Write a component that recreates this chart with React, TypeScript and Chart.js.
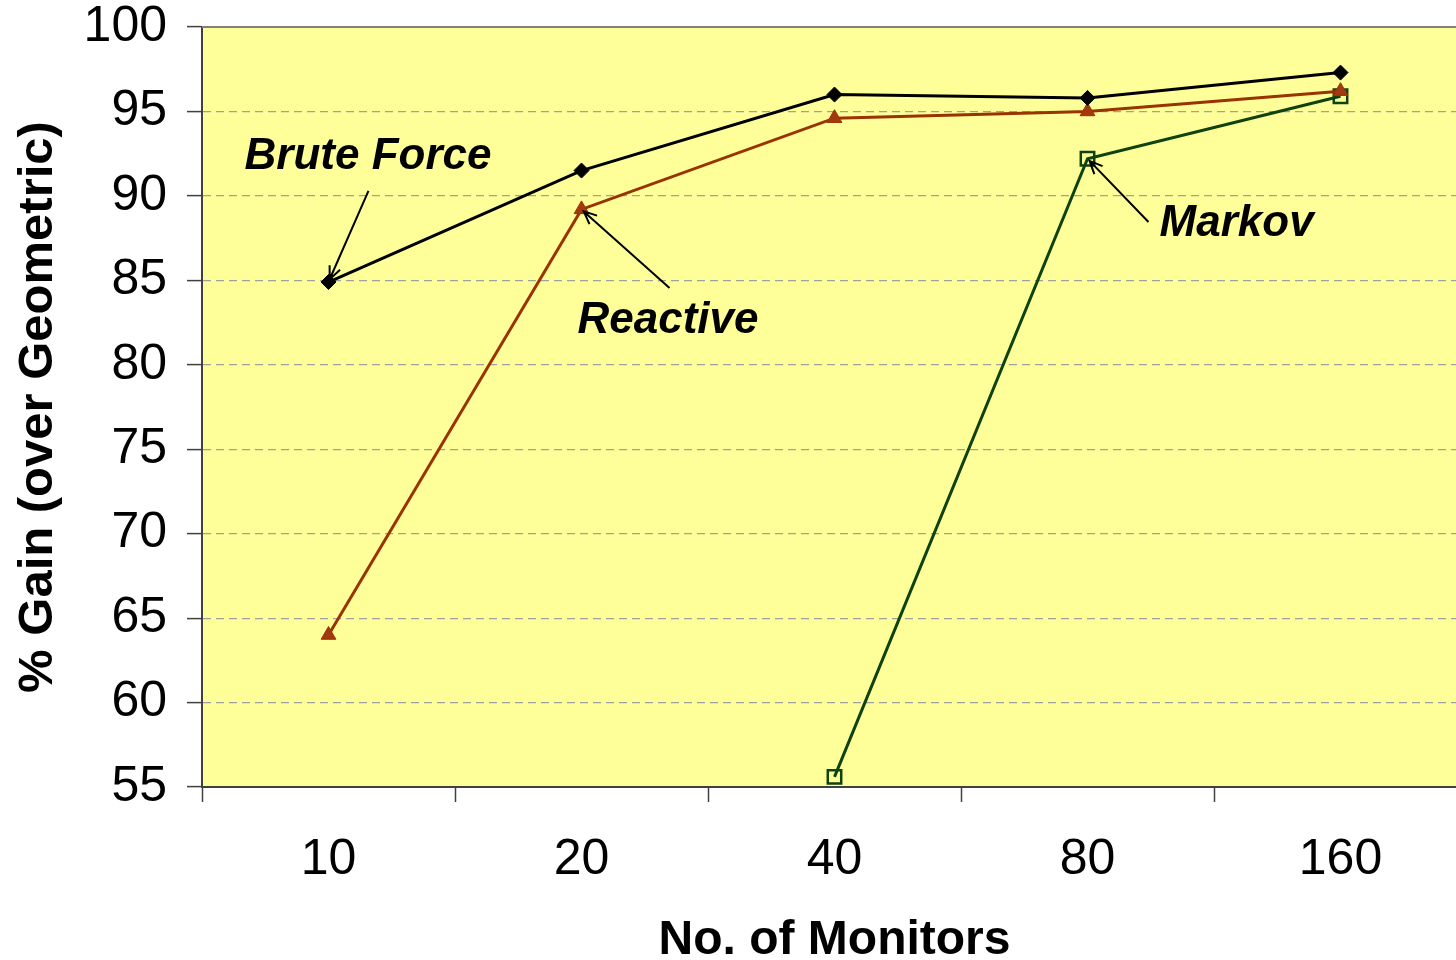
import React, { useEffect, useRef } from 'react';
import { Chart, registerables } from 'chart.js';

Chart.register(...registerables);

// ---- data ----
const categories = ['10', '20', '40', '80', '160'];
const bruteForce = [84.9, 91.5, 96.0, 95.8, 97.3];
const reactive = [64.0, 89.2, 94.6, 95.0, 96.2];
const markov: (number | null)[] = [null, null, 55.6, 92.2, 95.9];
const yMin = 55;
const yMax = 100;
const yStep = 5;
const xTitle = 'No. of Monitors';
const yTitle = '% Gain (over Geometric)';

// annotation labels (data space: category index, value)
const labelTexts = ['Brute Force', 'Reactive', 'Markov'];
const labelAnchors = [
  [-0.332, 91.6],
  [0.984, 81.9],
  [3.285, 87.65],
];
const arrowTails = [
  [0.158, 90.3],
  [1.348, 84.55],
  [3.241, 88.45],
];
const arrowTargets = [
  [0, 0], // series 0 (Brute Force), index 0
  [1, 1], // series 1 (Reactive), index 1
  [2, 3], // series 2 (Markov), index 3
];

const FONT = '"Liberation Sans", Arial, Helvetica, sans-serif';
const BG = '#FFFF99';

const plotFramePlugin = {
  id: 'plotFrame',
  beforeDraw(chart: any) {
    const { ctx, chartArea } = chart;
    ctx.save();
    ctx.fillStyle = BG;
    ctx.fillRect(chartArea.left, chartArea.top, chartArea.right - chartArea.left, chartArea.bottom - chartArea.top);
    ctx.restore();
  },
  beforeDatasetsDraw(chart: any) {
    const { ctx, chartArea } = chart;
    ctx.save();
    ctx.strokeStyle = '#808080';
    ctx.lineWidth = 2;
    ctx.beginPath();
    ctx.moveTo(chartArea.left, chartArea.top);
    ctx.lineTo(chartArea.right, chartArea.top);
    ctx.lineTo(chartArea.right, chartArea.bottom);
    ctx.stroke();
    ctx.restore();
  },
};

const annotationPlugin = {
  id: 'annotations',
  afterDatasetsDraw(chart: any) {
    const { ctx, scales } = chart;
    const xs = scales.x;
    const ys = scales.y;
    const series = [bruteForce, reactive, markov];
    ctx.save();
    ctx.fillStyle = '#000';
    ctx.font = `italic bold 44px ${FONT}`;
    ctx.textBaseline = 'alphabetic';
    ctx.textAlign = 'left';
    labelTexts.forEach((t, i) => {
      ctx.fillText(t, xs.getPixelForValue(labelAnchors[i][0]), ys.getPixelForValue(labelAnchors[i][1]));
    });
    ctx.strokeStyle = '#000';
    ctx.lineWidth = 2;
    arrowTails.forEach((tail, i) => {
      const [s, idx] = arrowTargets[i];
      const tx = xs.getPixelForValue(tail[0]);
      const ty = ys.getPixelForValue(tail[1]);
      const hxRaw = xs.getPixelForValue(idx);
      const hyRaw = ys.getPixelForValue(series[s][idx] as number);
      const ang = Math.atan2(hyRaw - ty, hxRaw - tx);
      const hx = hxRaw - Math.cos(ang) * 3;
      const hy = hyRaw - Math.sin(ang) * 3;
      ctx.beginPath();
      ctx.moveTo(tx, ty);
      ctx.lineTo(hx, hy);
      const L = 14;
      const a = 0.42;
      ctx.moveTo(hx - L * Math.cos(ang - a), hy - L * Math.sin(ang - a));
      ctx.lineTo(hx, hy);
      ctx.lineTo(hx - L * Math.cos(ang + a), hy - L * Math.sin(ang + a));
      ctx.stroke();
    });
    ctx.restore();
  },
};

export default function App() {
  const ref = useRef<HTMLCanvasElement | null>(null);
  useEffect(() => {
    if (!ref.current) return;
    const chart = new Chart(ref.current, {
      type: 'line',
      data: {
        labels: categories,
        datasets: [
          {
            label: 'Brute Force',
            data: bruteForce,
            borderColor: '#000000',
            backgroundColor: '#000000',
            borderWidth: 3,
            pointStyle: 'rectRot',
            pointRadius: 7.5,
            pointBorderWidth: 1,
            pointBackgroundColor: '#000000',
            pointBorderColor: '#000000',
            tension: 0,
          },
          {
            label: 'Reactive',
            data: reactive,
            borderColor: '#993300',
            backgroundColor: '#993300',
            borderWidth: 3,
            pointStyle: 'triangle',
            pointRadius: 8.5,
            pointBorderWidth: 1,
            pointBackgroundColor: '#A33A0F',
            pointBorderColor: '#993300',
            tension: 0,
          },
          {
            label: 'Markov',
            data: markov,
            borderColor: '#0E420E',
            backgroundColor: 'transparent',
            borderWidth: 3,
            pointStyle: 'rect',
            pointRadius: 9.5,
            pointBorderWidth: 2.5,
            pointBackgroundColor: 'rgba(0,0,0,0)',
            pointBorderColor: '#0E420E',
            tension: 0,
            spanGaps: false,
          },
        ],
      },
      options: {
        responsive: false,
        animation: false,
        devicePixelRatio: 1,
        layout: { padding: { top: 27, right: 13, left: 0, bottom: 0 } },
        plugins: {
          legend: { display: false },
          tooltip: { enabled: false },
        },
        scales: {
          x: {
            type: 'category',
            offset: true,
            grid: {
              offset: true,
              drawOnChartArea: false,
              drawTicks: true,
              tickLength: 15,
              tickColor: '#404040',
              tickWidth: 1.5,
            },
            border: { display: true, color: '#404040', width: 2 },
            ticks: {
              color: '#000',
              font: { family: FONT, size: 50 },
              padding: 28,
              maxRotation: 0,
            },
            title: {
              display: true,
              text: xTitle,
              color: '#000',
              font: { family: FONT, size: 48, weight: 'bold', lineHeight: 1 },
              padding: { top: 0, bottom: -5 },
            },
            afterFit(scale: any) {
              scale.height = 173;
              scale.paddingLeft = 0;
              scale.paddingRight = 0;
            },
          },
          y: {
            min: yMin,
            max: yMax,
            grid: {
              color: (ctx: any) => (ctx.tick && ctx.tick.value === yMax ? 'rgba(0,0,0,0)' : '#A0A0A0'),
              lineWidth: 1.2,
              drawTicks: true,
              tickLength: 15,
              tickColor: '#404040',
              tickWidth: 1.5,
            },
            border: { display: true, color: '#404040', width: 2, dash: [8, 5] },
            ticks: {
              stepSize: yStep,
              color: '#000',
              font: { family: FONT, size: 50 },
              padding: 20,
            },
            title: {
              display: true,
              text: yTitle,
              color: '#000',
              font: { family: FONT, size: 49, weight: 'bold', lineHeight: 1 },
              padding: { top: 14, bottom: 0 },
            },
            afterFit(scale: any) {
              scale.width = 202;
              scale.paddingTop = 0;
              scale.paddingBottom = 0;
            },
          },
        },
      },
      plugins: [plotFramePlugin, annotationPlugin],
    } as any);
    return () => chart.destroy();
  }, []);

  return (
    <div
      style={{
        position: 'fixed',
        left: 0,
        top: 0,
        width: 1456,
        height: 960,
        overflow: 'hidden',
        background: '#ffffff',
      }}
    >
      <canvas ref={ref} width={1480} height={960} style={{ display: 'block' }} />
    </div>
  );
}
